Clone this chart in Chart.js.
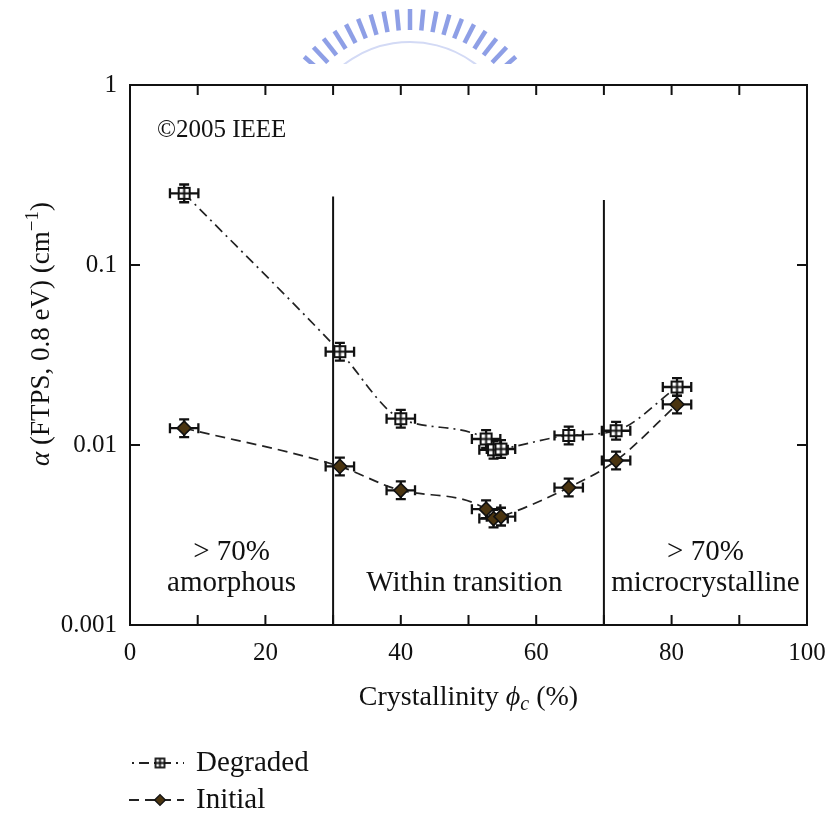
<!DOCTYPE html>
<html>
<head>
<meta charset="utf-8">
<title>Sub-gap absorption vs crystallinity</title>
<script src="https://cdn.jsdelivr.net/npm/chart.js@4.4.1/dist/chart.umd.min.js"></script>
<style>
  html, body { margin: 0; padding: 0; background: #fff; }
  canvas { display: block; }
</style>
</head>
<body>
<canvas id="alpha-chart" width="830" height="816"></canvas>
<script>
// crystallinity of each sample (%)
const crystallinity = [8, 31, 40, 52.6, 53.7, 54.8, 64.8, 71.8, 80.8];
// FTPS absorption at 0.8 eV (cm^-1)
const degradedAlpha = [0.25, 0.033, 0.014, 0.0108, 0.0094, 0.0095, 0.0113, 0.012, 0.021];
const initialAlpha = [0.0124, 0.0076, 0.0056, 0.0044, 0.0039, 0.004, 0.0058, 0.0082, 0.0168];
// error bars: absolute on phi_c, relative on alpha
const crystallinityErr = [2.1, 2.1, 2.1, 2.1, 2.1, 2.1, 2.1, 2.1, 2.1];
const alphaRelErr = [0.12, 0.12, 0.12, 0.12, 0.12, 0.12, 0.12, 0.12, 0.12];
// boundaries between the three growth regimes
const regimeBounds = [30, 70];
const regimeLineTop = [0.24, 0.23];
const regimeNames = [['> 70%', 'amorphous'], ['Within transition'], ['> 70%', 'microcrystalline']];
const regimeCentres = [15, 49.4, 85];

const xTicks = [0, 10, 20, 30, 40, 50, 60, 70, 80, 90, 100];
const yTicks = [0.001, 0.01, 0.1, 1];
const yTickLabels = ['0.001', '0.01', '0.1', '1'];

const SERIF = '"Liberation Serif", "Times New Roman", serif';
const INK = '#111';

// open square with a cross through it
const squareCross = (size, lw) => {
  const c = document.createElement('canvas');
  c.width = size + 4;
  c.height = size + 4;
  const g = c.getContext('2d');
  const o = 2;
  g.fillStyle = '#fff';
  g.fillRect(o, o, size, size);
  g.strokeStyle = INK;
  g.lineWidth = lw;
  g.strokeRect(o, o, size, size);
  g.beginPath();
  g.moveTo(o + size / 2, o);
  g.lineTo(o + size / 2, o + size);
  g.moveTo(o, o + size / 2);
  g.lineTo(o + size, o + size / 2);
  g.stroke();
  return c;
};

const toPoints = (ys) => crystallinity.map((x, i) => ({ x, y: ys[i] }));

const seriesStyle = {
  degraded: { dash: [10, 5, 2, 5], marker: squareCross(11, 2), smallMarker: squareCross(9, 1.8) },
  initial: { dash: [10, 6] }
};

const regimeLines = regimeBounds.map((x, i) => ({
  type: 'line',
  data: [{ x, y: 0.001 }, { x, y: regimeLineTop[i] }],
  borderColor: INK,
  borderWidth: 2,
  pointRadius: 0,
  errorBars: false
}));

// horizontal and vertical error bars with caps
const errorBars = {
  id: 'errorBars',
  beforeDatasetsDraw(chart) {
    const { ctx, scales: { x, y } } = chart;
    ctx.save();
    ctx.strokeStyle = INK;
    ctx.lineWidth = 2.3;
    chart.data.datasets.forEach((ds) => {
      if (!ds.errorBars) return;
      ds.data.forEach((p, i) => {
        const cx = x.getPixelForValue(p.x);
        const cy = y.getPixelForValue(p.y);
        const x0 = x.getPixelForValue(p.x - crystallinityErr[i]);
        const x1 = x.getPixelForValue(p.x + crystallinityErr[i]);
        const y0 = y.getPixelForValue(p.y * (1 + alphaRelErr[i]));
        const y1 = y.getPixelForValue(p.y / (1 + alphaRelErr[i]));
        const cap = 5;
        ctx.beginPath();
        ctx.moveTo(x0, cy); ctx.lineTo(x1, cy);
        ctx.moveTo(x0, cy - cap); ctx.lineTo(x0, cy + cap);
        ctx.moveTo(x1, cy - cap); ctx.lineTo(x1, cy + cap);
        ctx.moveTo(cx, y0); ctx.lineTo(cx, y1);
        ctx.moveTo(cx - cap, y0); ctx.lineTo(cx + cap, y0);
        ctx.moveTo(cx - cap, y1); ctx.lineTo(cx + cap, y1);
        ctx.stroke();
      });
    });
    ctx.restore();
  }
};

// faint striped seal in the top margin
const drawSeal = (ctx) => {
  ctx.save();
  ctx.beginPath();
  ctx.rect(0, 0, 830, 64);
  ctx.clip();
  const cx = 410, cy = 150;
  ctx.strokeStyle = '#8e9fe6';
  ctx.lineWidth = 4.5;
  for (let a = 36; a <= 144; a += 5.4) {
    const t = -a * Math.PI / 180;
    ctx.beginPath();
    ctx.moveTo(cx + Math.cos(t) * 120, cy + Math.sin(t) * 120);
    ctx.lineTo(cx + Math.cos(t) * 141, cy + Math.sin(t) * 141);
    ctx.stroke();
  }
  ctx.strokeStyle = '#d3daf5';
  ctx.lineWidth = 2;
  ctx.beginPath();
  ctx.arc(cx, cy, 108, Math.PI * 1.2, Math.PI * 1.8);
  ctx.stroke();
  ctx.restore();
};

// centred text made of runs: italic, superscript or subscript
const richText = (ctx, runs, size) => {
  const fontFor = (r) => `${r.italic ? 'italic ' : ''}${r.sup || r.sub ? Math.round(size * 0.7) : size}px ${SERIF}`;
  ctx.textAlign = 'left';
  let w = 0;
  runs.forEach((r) => { ctx.font = fontFor(r); w += ctx.measureText(r.t).width; });
  let x = -w / 2;
  runs.forEach((r) => {
    ctx.font = fontFor(r);
    const dy = r.sup ? -size * 0.35 : r.sub ? size * 0.25 : 0;
    ctx.fillText(r.t, x, dy);
    x += ctx.measureText(r.t).width;
  });
};

const frameAndText = {
  id: 'frameAndText',
  beforeDraw(chart) {
    drawSeal(chart.ctx);
  },
  afterDraw(chart) {
    const { ctx, chartArea: a, scales: { x, y } } = chart;
    ctx.save();
    ctx.strokeStyle = INK;
    ctx.lineWidth = 2;
    ctx.strokeRect(a.left, a.top, a.right - a.left, a.bottom - a.top);

    // inward ticks on all four sides
    ctx.beginPath();
    xTicks.forEach((v) => {
      const px = x.getPixelForValue(v);
      ctx.moveTo(px, a.bottom); ctx.lineTo(px, a.bottom - 10);
      ctx.moveTo(px, a.top); ctx.lineTo(px, a.top + 10);
    });
    yTicks.forEach((v) => {
      const py = y.getPixelForValue(v);
      ctx.moveTo(a.left, py); ctx.lineTo(a.left + 10, py);
      ctx.moveTo(a.right, py); ctx.lineTo(a.right - 10, py);
    });
    ctx.stroke();

    ctx.fillStyle = INK;
    ctx.textBaseline = 'middle';

    ctx.font = `25px ${SERIF}`;
    ctx.textAlign = 'left';
    ctx.fillText('©2005 IEEE', a.left + 27, a.top + 45);

    ctx.font = `29px ${SERIF}`;
    ctx.textAlign = 'center';
    regimeNames.forEach((lines, i) => {
      const px = x.getPixelForValue(regimeCentres[i]);
      const base = a.bottom - 42;
      lines.forEach((line, j) => {
        ctx.fillText(line, px, base - (lines.length - 1 - j) * 31);
      });
    });

    // axis titles
    ctx.save();
    ctx.translate((a.left + a.right) / 2, 698);
    richText(ctx, [{ t: 'Crystallinity ' }, { t: 'ϕ', italic: true }, { t: 'c', italic: true, sub: true }, { t: ' (%)' }], 28);
    ctx.restore();

    ctx.save();
    ctx.translate(42, 334);
    ctx.rotate(-Math.PI / 2);
    richText(ctx, [{ t: 'α', italic: true }, { t: ' (FTPS, 0.8 eV) (cm' }, { t: '−1', sup: true }, { t: ')' }], 27);
    ctx.restore();

    // legend
    const rows = [
      { ds: chart.data.datasets[0], y: 763, label: 'Degraded', offset: 12 },
      { ds: chart.data.datasets[1], y: 800, label: 'Initial', offset: 0 }
    ];
    rows.forEach((r) => {
      ctx.save();
      ctx.strokeStyle = r.ds.borderColor;
      ctx.lineWidth = 2;
      ctx.setLineDash(r.ds.borderDash);
      ctx.lineDashOffset = r.offset;
      ctx.beginPath();
      ctx.moveTo(129, r.y);
      ctx.lineTo(184, r.y);
      ctx.stroke();
      ctx.restore();
      if (r.ds.pointStyle instanceof HTMLCanvasElement) {
        const m = seriesStyle.degraded.smallMarker;
        ctx.drawImage(m, 160 - m.width / 2, r.y - m.height / 2);
      } else {
        ctx.save();
        ctx.translate(160, r.y);
        ctx.rotate(Math.PI / 4);
        ctx.fillStyle = r.ds.backgroundColor;
        ctx.strokeStyle = r.ds.pointBorderColor;
        ctx.lineWidth = 1.4;
        ctx.fillRect(-3.8, -3.8, 7.6, 7.6);
        ctx.strokeRect(-3.8, -3.8, 7.6, 7.6);
        ctx.restore();
      }
      ctx.fillStyle = INK;
      ctx.font = `29px ${SERIF}`;
      ctx.textAlign = 'left';
      ctx.fillText(r.label, 196, r.y);
    });
    ctx.restore();
  }
};

new Chart(document.getElementById('alpha-chart'), {
  type: 'line',
  data: {
    datasets: [
      {
        label: 'Degraded',
        data: toPoints(degradedAlpha),
        borderColor: '#222',
        borderWidth: 1.7,
        borderDash: seriesStyle.degraded.dash,
        cubicInterpolationMode: 'monotone',
        pointStyle: seriesStyle.degraded.marker,
        pointRadius: 6,
        errorBars: true
      },
      {
        label: 'Initial',
        data: toPoints(initialAlpha),
        borderColor: '#222',
        borderWidth: 1.7,
        borderDash: seriesStyle.initial.dash,
        cubicInterpolationMode: 'monotone',
        pointStyle: 'rectRot',
        pointRadius: 7,
        backgroundColor: '#4a3410',
        pointBorderColor: INK,
        pointBorderWidth: 1.6,
        errorBars: true
      },
      ...regimeLines
    ]
  },
  options: {
    responsive: false,
    animation: false,
    layout: { padding: { top: 85, right: 23, left: 0, bottom: 91 } },
    plugins: {
      legend: { display: false },
      tooltip: { enabled: false }
    },
    scales: {
      x: {
        type: 'linear',
        min: 0,
        max: 100,
        afterBuildTicks: (s) => { s.ticks = xTicks.map((value) => ({ value })); },
        afterFit: (s) => { s.height = 100; s.paddingRight = 0; s.paddingLeft = 0; },
        grid: { display: false, drawTicks: false },
        border: { display: false },
        ticks: {
          autoSkip: false,
          maxRotation: 0,
          padding: 13,
          color: INK,
          font: { family: SERIF, size: 25 },
          callback: (v) => (v % 20 === 0 ? String(v) : '')
        }
      },
      y: {
        type: 'logarithmic',
        min: 0.001,
        max: 1,
        afterBuildTicks: (s) => { s.ticks = yTicks.map((value) => ({ value })); },
        afterFit: (s) => { s.width = 130; },
        grid: { display: false, drawTicks: false },
        border: { display: false },
        ticks: {
          padding: 13,
          color: INK,
          font: { family: SERIF, size: 25 },
          callback: (v, i) => yTickLabels[i]
        }
      }
    }
  },
  plugins: [errorBars, frameAndText]
});
</script>
</body>
</html>
